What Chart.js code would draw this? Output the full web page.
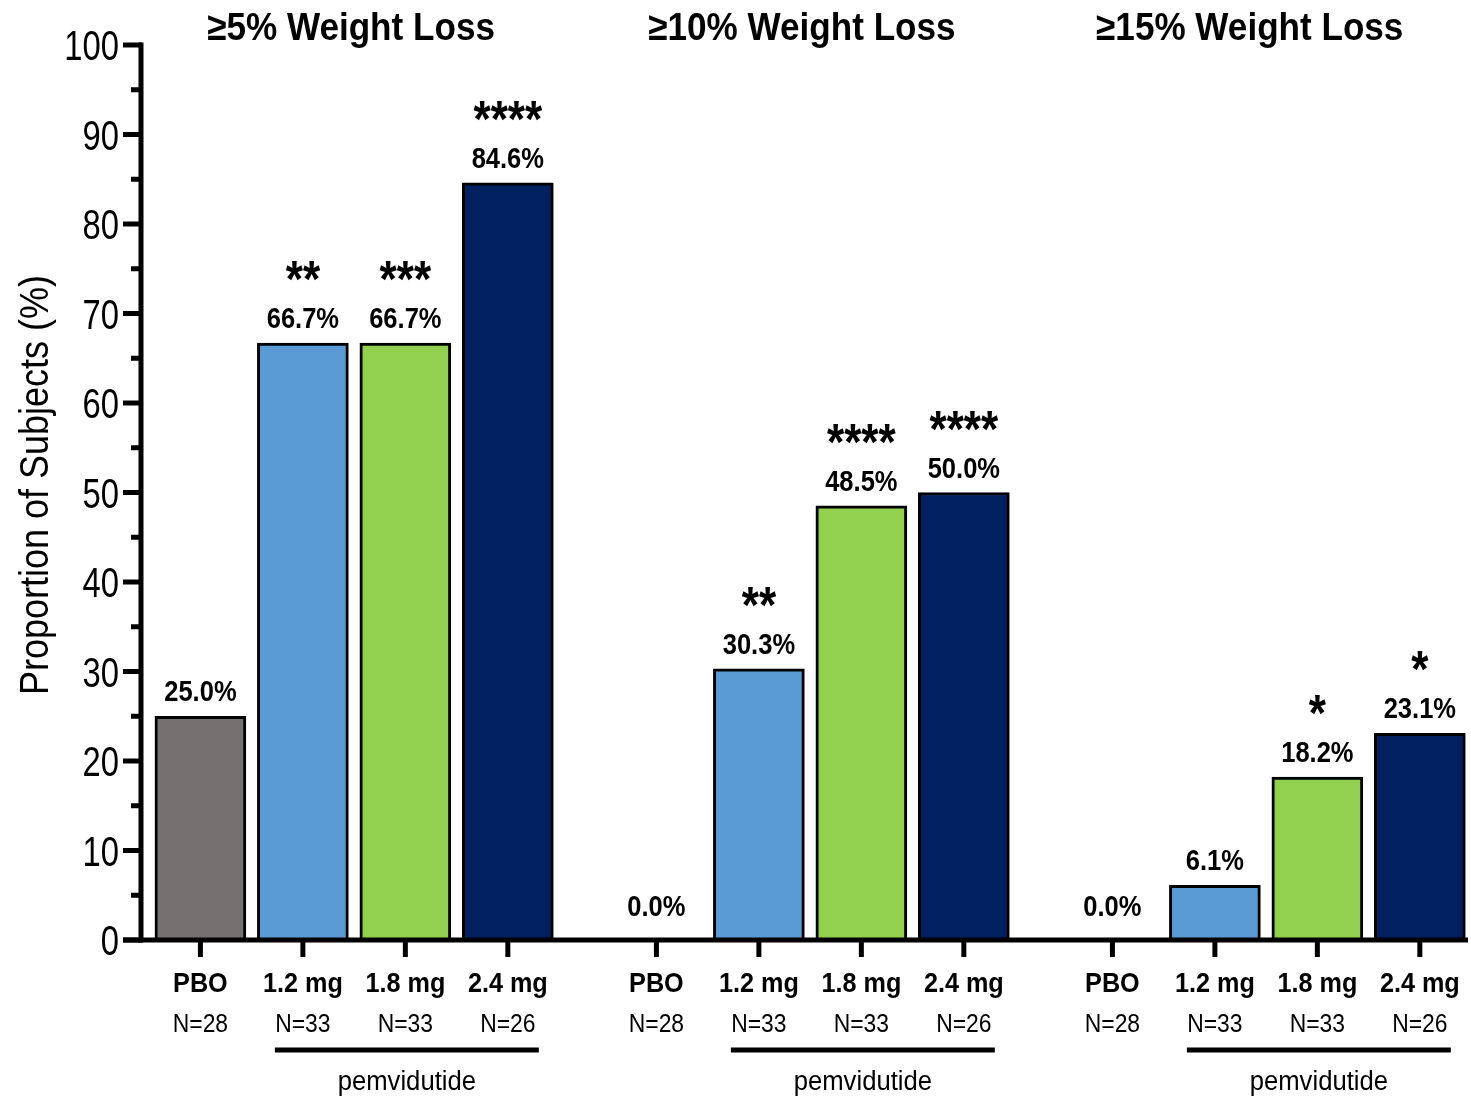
<!DOCTYPE html>
<html>
<head>
<meta charset="utf-8">
<title>Pemvidutide weight loss responders</title>
<script src="https://cdn.jsdelivr.net/npm/chart.js@4"></script>
<style>
  html, body { margin: 0; padding: 0; background: #ffffff; }
  canvas { display: block; }
</style>
</head>
<body>
<canvas id="chart" width="1471" height="1096"></canvas>
<script>
// ---- data ----
const groupTitles = ['≥5% Weight Loss', '≥10% Weight Loss', '≥15% Weight Loss'];
const doseLabels = ['PBO', '1.2 mg', '1.8 mg', '2.4 mg'];
const sampleSizes = ['N=28', 'N=33', 'N=33', 'N=26'];
const loss5Pct = [25.0, 66.7, 66.7, 84.6];
const loss10Pct = [0.0, 30.3, 48.5, 50.0];
const loss15Pct = [0.0, 6.1, 18.2, 23.1];
const stars5Pct = ['', '**', '***', '****'];
const stars10Pct = ['', '**', '****', '****'];
const stars15Pct = ['', '', '*', '*'];
const treatmentName = 'pemvidutide';
const yTickValues = [0, 10, 20, 30, 40, 50, 60, 70, 80, 90, 100];
const yAxisTitle = 'Proportion of Subjects (%)';

// ---- styling / layout ----
const doseColors = ['#767171', '#5B9BD5', '#92D050', '#002060'];
const GROUP_STEP = 4.45;                 // x units between the first bars of adjacent groups
const TITLE_OFFSET = [1.47, 1.42, 1.34]; // title centre, x units from a group's first bar
const FONT = "'Liberation Sans', Arial, sans-serif";

const groupValues = [loss5Pct, loss10Pct, loss15Pct];
const groupStars = [stars5Pct, stars10Pct, stars15Pct];

const points = [];
const colors = [];
const pointMeta = [];
groupValues.forEach((vals, g) => {
  vals.forEach((v, i) => {
    points.push({ x: g * GROUP_STEP + i, y: v });
    colors.push(doseColors[i]);
    pointMeta.push({ g, i, stars: groupStars[g][i] });
  });
});

// condensed text: Liberation Sans squeezed horizontally
function condensedText(ctx, text, x, y, font, squeeze, align = 'center', baseline = 'alphabetic') {
  ctx.save();
  ctx.translate(x, y);
  ctx.scale(squeeze, 1);
  ctx.font = `${font} ${FONT}`;
  ctx.textAlign = align;
  ctx.textBaseline = baseline;
  ctx.fillText(text, 0, 0);
  ctx.restore();
}

const annotate = {
  id: 'annotate',
  afterDraw(chart) {
    const ctx = chart.ctx;
    const xs = chart.scales.x;
    const ys = chart.scales.y;
    const y0 = ys.getPixelForValue(0);
    const axisX = xs.left;
    ctx.save();
    ctx.fillStyle = '#000000';
    ctx.strokeStyle = '#000000';

    // y axis line with major/minor ticks
    ctx.lineWidth = 5;
    ctx.beginPath();
    ctx.moveTo(axisX - 1, ys.getPixelForValue(100) - 2.5);
    ctx.lineTo(axisX - 1, y0 + 2.5);
    ctx.stroke();
    for (let v = 0; v <= 100; v += 5) {
      const py = ys.getPixelForValue(v);
      const major = v % 10 === 0;
      ctx.beginPath();
      ctx.moveTo(axisX - (major ? 19 : 11), py);
      ctx.lineTo(axisX, py);
      ctx.stroke();
    }
    yTickValues.forEach(v => {
      condensedText(ctx, String(v), axisX - 23, ys.getPixelForValue(v) + 15, '42px', 0.78, 'right');
    });

    // y axis title
    ctx.save();
    ctx.translate(48, 485);
    ctx.rotate(-Math.PI / 2);
    condensedText(ctx, yAxisTitle, 0, 0, '40px', 0.9);
    ctx.restore();

    // x axis line
    ctx.lineWidth = 5;
    ctx.beginPath();
    ctx.moveTo(axisX - 19, y0);
    ctx.lineTo(xs.right, y0);
    ctx.stroke();

    // per-bar ticks, labels, values and significance stars
    points.forEach((p, k) => {
      const px = xs.getPixelForValue(p.x);
      const top = ys.getPixelForValue(p.y);
      const m = pointMeta[k];
      ctx.lineWidth = 5;
      ctx.beginPath();
      ctx.moveTo(px, y0);
      ctx.lineTo(px, y0 + 17);
      ctx.stroke();

      condensedText(ctx, doseLabels[m.i], px, 992, 'bold 28px', 0.9);
      condensedText(ctx, sampleSizes[m.i], px, 1032, '26px', 0.88);
      // empty bars sit on the axis line, so their label is lifted a little more
      const lift = p.y === 0 ? 24 : 15;
      condensedText(ctx, p.y.toFixed(1) + '%', px, top - lift, 'bold 29px', 0.88);
      if (m.stars) {
        condensedText(ctx, m.stars, px, top - 46, 'bold 52px', 0.85);
      }
    });

    // treatment bracket and group titles
    groupTitles.forEach((title, g) => {
      const x1 = xs.getPixelForValue(g * GROUP_STEP + 1) - 28;
      const x3 = xs.getPixelForValue(g * GROUP_STEP + 3) + 31;
      ctx.lineWidth = 5;
      ctx.beginPath();
      ctx.moveTo(x1, 1050);
      ctx.lineTo(x3, 1050);
      ctx.stroke();
      condensedText(ctx, treatmentName, (x1 + x3) / 2, 1090, '27px', 0.95);
      condensedText(ctx, title, xs.getPixelForValue(g * GROUP_STEP + TITLE_OFFSET[g]), 40, 'bold 39px', 0.9);
    });
    ctx.restore();
  }
};

new Chart(document.getElementById('chart'), {
  type: 'bar',
  data: {
    datasets: [{
      data: points,
      backgroundColor: colors,
      borderColor: '#000000',
      borderWidth: 3,
      borderSkipped: 'start',
      barThickness: 91
    }]
  },
  options: {
    responsive: false,
    animation: false,
    layout: { padding: { left: 142, right: 3, top: 45, bottom: 156 } },
    plugins: { legend: { display: false }, tooltip: { enabled: false } },
    scales: {
      x: { type: 'linear', offset: false, min: -0.57, max: 12.37, display: false },
      y: { min: 0, max: 100, display: false }
    }
  },
  plugins: [annotate]
});
</script>
</body>
</html>
